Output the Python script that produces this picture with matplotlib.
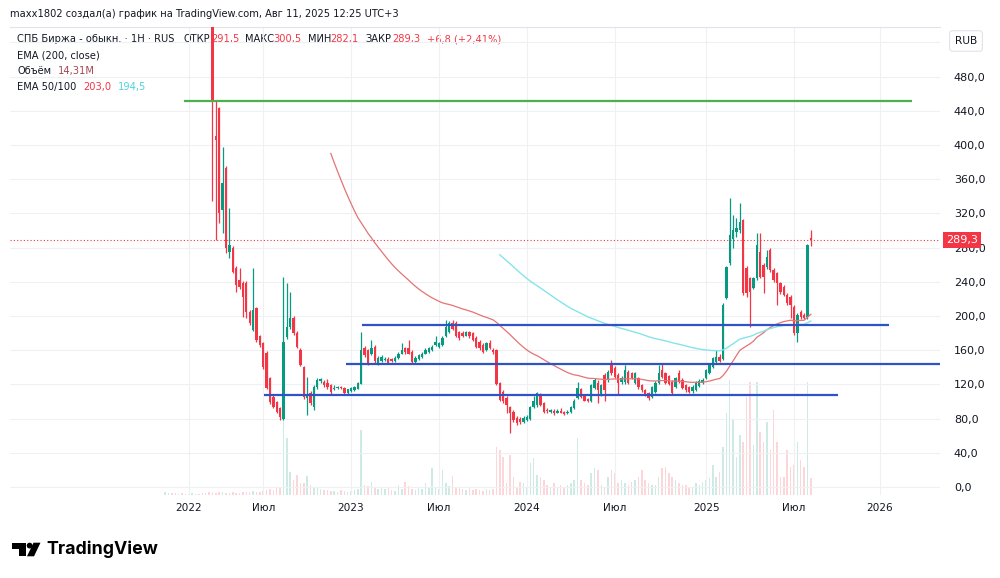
import numpy as np
import pandas as pd
import matplotlib
matplotlib.use('Agg')
import matplotlib.pyplot as plt
from matplotlib.transforms import blended_transform_factory
from matplotlib.patches import Rectangle, Circle, Polygon

# weekly candles (RUB), first bar = week of 2021-11-15, trading halt in March 2022
opens = [800, 880, 1010, 950, 900, 940, 930, 880, 900, 950, 960, 920, 900, 870,
         840, 410, 443, 324, 373, 275, 280, 256, 242, 239, 239, 205, 184, 209, 176, 168,
         157, 127, 105, 99, 92, 80, 175, 187, 198, 180, 160, 140, 104, 110, 94, 117,
         124, 123, 122, 119, 115, 116, 117, 116, 110, 112, 113, 115, 121, 162, 160,
         156, 164, 145, 147, 148, 150, 150, 147, 151, 156, 162, 162, 158, 146, 150,
         152, 156, 158, 160, 166, 164, 166, 176, 181, 192, 192, 181, 180, 177, 181,
         180, 174, 170, 166, 160, 168, 160, 160, 122, 111, 104, 94, 88, 81, 80, 76,
         78, 80, 93, 96, 108, 98, 90, 88, 89, 87, 89, 88, 86, 88, 92, 104, 114, 106,
         103, 100, 116, 122, 108, 131, 125, 145, 139, 131, 123, 123, 135, 133, 122,
         127, 119, 113, 110, 105, 111, 122, 137, 133, 130, 123, 117, 133, 125, 119,
         117, 112, 113, 118, 122, 127, 133, 140, 146, 152, 150, 221, 262, 290, 298,
         301, 312, 256, 244, 233, 244, 275, 260, 257, 277, 254, 250, 238, 234, 225,
         222, 211, 180, 205, 201, 199, 291.5]
highs = [1050, 1060, 1030, 960, 980, 960, 950, 920, 980, 990, 970, 940, 910, 890,
         850, 452, 445, 398, 375, 326, 282, 258, 256, 241, 241, 207, 256, 211, 178, 170,
         159, 129, 107, 101, 94, 246, 238, 228, 200, 182, 162, 142, 129, 112, 119, 127,
         128, 125, 126, 120, 119, 118, 118, 117, 115, 117, 118, 123, 181, 165, 161,
         172, 166, 153, 154, 152, 152, 151, 153, 158, 168, 164, 172, 160, 153, 156,
         158, 162, 164, 166, 176, 170, 176, 195, 194, 195, 194, 183, 182, 183, 182,
         181, 176, 172, 168, 170, 172, 162, 161, 123, 113, 106, 95, 90, 83, 82, 83,
         84, 95, 106, 111, 110, 99, 92, 91, 91, 91, 92, 89, 90, 95, 103, 123, 116, 107,
         104, 120, 127, 125, 121, 133, 137, 148, 141, 133, 130, 143, 137, 135, 135,
         129, 120, 115, 111, 118, 124, 143, 145, 135, 131, 125, 129, 137, 127, 120,
         118, 119, 124, 126, 127, 138, 145, 152, 160, 155, 215, 259, 338, 318, 315,
         332, 314, 258, 246, 246, 297, 297, 262, 277, 279, 256, 252, 240, 236, 227,
         224, 213, 203, 207, 203, 284, 300.5]
lows = [760, 860, 930, 880, 890, 900, 860, 860, 880, 930, 900, 880, 850, 820,
        334, 289, 309, 297, 274, 268, 250, 228, 232, 199, 198, 190, 182, 170, 164, 138,
        114, 97, 92, 86, 78, 78, 173, 185, 178, 162, 141, 103, 84, 96, 90, 115,
        122, 117, 115, 109, 113, 114, 114, 108, 109, 111, 112, 114, 120, 152, 143,
        154, 145, 143, 146, 147, 144, 146, 146, 150, 155, 156, 155, 145, 145, 149,
        151, 155, 157, 159, 165, 162, 165, 175, 180, 184, 175, 172, 175, 176, 174,
        171, 163, 160, 157, 159, 161, 156, 119, 100, 98, 87, 63, 76, 73, 74, 75,
        77, 78, 92, 94, 95, 87, 87, 86, 84, 86, 86, 84, 85, 87, 91, 103, 104, 100,
        99, 99, 115, 98, 106, 100, 123, 131, 127, 108, 121, 121, 120, 126, 120,
        115, 111, 106, 102, 104, 110, 121, 128, 121, 119, 108, 116, 122, 114, 111,
        110, 110, 112, 117, 121, 126, 132, 139, 145, 146, 149, 220, 260, 280, 292,
        297, 225, 222, 187, 231, 242, 244, 227, 255, 252, 240, 213, 226, 223, 213,
        198, 178, 170, 197, 196, 197, 282.1]
closes = [880, 1010, 950, 900, 940, 930, 880, 900, 950, 960, 920, 900, 870, 846,
          451, 406, 320, 356, 280, 283, 252, 236, 234, 222, 205, 192, 207, 172, 166, 140,
          116, 99, 94, 88, 82, 170, 187, 198, 180, 164, 143, 105, 108, 98, 117, 125,
          126, 119, 117, 111, 116, 117, 116, 110, 114, 116, 117, 122, 160, 154, 145,
          162, 147, 151, 152, 150, 145, 147, 151, 156, 160, 158, 156, 146, 151, 154,
          156, 160, 162, 164, 170, 168, 174, 187, 192, 185, 176, 174, 177, 181, 176,
          172, 164, 162, 158, 168, 162, 158, 121, 102, 100, 96, 87, 78, 75, 76, 81,
          82, 94, 100, 110, 96, 88, 89, 90, 87, 89, 87, 85, 88, 94, 101, 116, 105, 101,
          100, 119, 125, 113, 119, 113, 135, 133, 129, 122, 128, 137, 122, 128, 133,
          117, 113, 108, 104, 117, 122, 133, 129, 122, 121, 110, 127, 123, 116, 113,
          111, 117, 122, 124, 125, 137, 143, 151, 152, 147, 213, 257, 295, 300, 303,
          310, 227, 227, 228, 244, 283, 246, 246, 269, 254, 242, 238, 228, 225, 215,
          213, 180, 201, 199, 198, 282.5, 289.3]
# volume, millions of shares
volumes = [2.5, 1.7, 1.7, 1.7, 0.8, 1.7, 0.8, 0.8, 1.7, 0.8, 0.8, 1.7, 1.7, 2.5,
           2.5, 1.7, 2.5, 2.5, 1.7, 1.7, 2.5, 1.7, 1.7, 2.5, 2.5, 2.5, 3.4, 2.5, 2.5,
           3.4, 4.2, 5.0, 4.2, 5.9, 6.7,
           63.0, 47.9, 19.3, 12.6, 16.8, 10.1, 10.1, 16.0, 8.4, 6.7, 6.7, 5.0, 4.2, 4.2,
           3.4, 3.4, 2.5, 4.2, 3.4, 2.5, 3.4, 4.2, 5.0,
           54.6, 8.4, 7.6, 10.9, 6.7, 5.0, 6.7, 5.0, 6.7, 4.2, 3.4, 8.4, 5.0, 10.9, 7.6,
           5.0, 4.2, 5.9, 5.0, 10.1, 6.7, 22.7, 6.7, 5.0, 21.0, 10.1, 7.6, 16.0, 6.7,
           6.7, 5.0, 4.2, 5.9, 4.2, 5.0, 4.2, 3.4, 5.0, 4.2, 5.0,
           40.3, 37.8, 31.9, 10.1, 33.6, 15.1, 6.7, 10.9, 10.1, 5.9,
           26.9, 31.1, 16.8, 15.1, 12.6, 8.4, 6.7, 10.1, 5.9, 8.4,
           6.7, 8.4, 10.1, 12.6, 47.9, 12.6, 10.1, 8.4, 18.5, 22.7,
           21.0, 8.4, 6.7, 15.1, 21.0, 18.5, 10.1, 12.6, 10.1, 8.4,
           10.9, 12.6, 15.1, 21.0, 12.6, 10.1, 8.4, 8.4, 15.1, 22.7,
           23.5, 18.5, 15.1, 12.6, 10.1, 8.4, 8.4, 6.7, 6.7, 10.1,
           8.4, 10.9, 12.6, 14.3, 25.2, 15.1, 19.3,
           40.3, 68.9, 96.6, 63.0, 31.9, 50.4, 44.5, 82.3, 94.9, 42.0, 94.9, 52.9, 44.5,
           61.3, 37.8, 71.4, 44.5, 15.1, 15.1, 37.8, 23.5, 25.2, 44.5, 29.4, 23.5,
           94.9, 14.31]

halt_weeks = ['2022-02-28', '2022-03-07', '2022-03-14', '2022-03-21']
tick_dates = ['2022-01-01', '2022-07-01', '2023-01-01', '2023-07-01', '2024-01-01',
              '2024-07-01', '2025-01-01', '2025-07-01', '2026-01-01']
tick_labels = ['2022', 'Июл', '2023', 'Июл', '2024', 'Июл', '2025', 'Июл', '2026']

# user-drawn horizontal levels: price, from bar, to bar
level_prices = [451.5, 189.5, 144.0, 107.5]
level_from = [5.5, 58.2, 53.5, 29.2]
level_to = [220.9, 214.1, 232.0, 199.0]
level_colors = ['#4caf50', '#2f52c6', '#2f52c6', '#2f52c6']

opens, highs, lows, closes, volumes = map(np.array, (opens, highs, lows, closes, volumes))
dates = pd.date_range('2021-11-15', '2025-08-11', freq='7D').drop(pd.to_datetime(halt_weeks))
n = len(closes)
x = np.arange(n)


def bar_pos(d):
    d = pd.Timestamp(d)
    if d <= dates[-1]:
        return int(np.searchsorted(dates, d))
    return n - 1 + (d - dates[-1]).days / 7


def ema(values, span):
    out = np.full(len(values), np.nan)
    alpha = 2 / (span + 1)
    out[span - 1] = values[:span].mean()
    for i in range(span, len(values)):
        out[i] = alpha * values[i] + (1 - alpha) * out[i - 1]
    return out


GREEN = '#089981'
RED = '#f23645'
TXT = '#131722'
W, H = 1000, 578

fig = plt.figure(figsize=(10, 5.78), dpi=100)


def px_rect(x0, y0, x1, y1):
    return [x0 / W, 1 - y1 / H, (x1 - x0) / W, (y1 - y0) / H]


overlay = fig.add_axes([0, 0, 1, 1], zorder=0)
overlay.set_xlim(0, W)
overlay.set_ylim(H, 0)
overlay.axis('off')

vax = fig.add_axes(px_rect(10, 27, 940, 495), zorder=1)
ax = fig.add_axes(px_rect(10, 27, 940, 495), zorder=2, sharex=vax)
for a in (vax, ax):
    a.patch.set_alpha(0)
    for s in a.spines.values():
        s.set_visible(False)

up = closes >= opens
colors = np.where(up, GREEN, RED)

# volume
vax.bar(x, volumes, width=0.45, color=colors, alpha=0.2, linewidth=0)
vax.set_ylim(0, 394)
vax.set_yticks([])
vax.tick_params(axis='x', length=0, labelbottom=False)

# candles
ax.vlines(x, lows, highs, colors=colors, lw=0.9, zorder=3)
ax.bar(x, np.maximum(np.abs(closes - opens), 0.9), bottom=np.minimum(opens, closes),
       width=0.7, color=colors, linewidth=0, zorder=3)

ax.plot(x, ema(closes, 50), color='#e57373', lw=0.9, zorder=4)
ax.plot(x, ema(closes, 100), color='#84e4ec', lw=1.0, zorder=4)

ax.hlines(level_prices, level_from, level_to, colors=level_colors, lw=1.6, zorder=4)

last = closes[-1]
ax.axhline(last, color=RED, lw=0.8, ls=(0, (1, 2)), zorder=2)
tr = blended_transform_factory(ax.transAxes, ax.transData)
ax.text(1.0062, last, f'{last:.1f}'.replace('.', ','), transform=tr, ha='left', va='center',
        color='white', fontsize=8, clip_on=False, zorder=6,
        bbox=dict(boxstyle='square,pad=0.28', fc=RED, ec='none'))

ax.set_xlim(-45.9, 229.2)
ax.set_ylim(-9.4, 538)

yt = np.arange(0, 521, 40)
ax.set_yticks(yt)
ax.set_yticklabels([f'{v:.1f}'.replace('.', ',') if v <= 480 else '' for v in yt])
ax.yaxis.tick_right()
ax.tick_params(axis='y', length=0, pad=10, labelsize=8, labelcolor=TXT)

ax.set_xticks([bar_pos(d) for d in tick_dates])
ax.set_xticklabels(tick_labels)
ax.tick_params(axis='x', length=0, pad=6, labelsize=7.6, labelcolor=TXT)
ax.grid(color='#eef0f4', lw=0.8, zorder=0)
ax.set_axisbelow(True)
ax.spines['top'].set_visible(True)
ax.spines['top'].set_color('#e0e3eb')
ax.spines['top'].set_linewidth(0.8)

# header and legend
fs = 7.1
overlay.text(10, 14, 'maxx1802 создал(а) график на TradingView.com, Авг 11, 2025 12:25 UTC+3',
             fontsize=fs, color=TXT, va='center')
legend1 = [('СПБ Биржа - обыкн. · 1Н · RUS', 17, TXT), ('ОТКР', 183, TXT), ('291,5', 211, RED),
           ('МАКС', 245, TXT), ('300,5', 273, RED), ('МИН', 308, TXT), ('282,1', 330, RED),
           ('ЗАКР', 365, TXT), ('289,3', 392, RED), ('+6,8 (+2,41%)', 427, RED)]
for s, xp, c in legend1:
    overlay.text(xp, 39, s, fontsize=fs, color=c, va='center')
overlay.text(17, 55, 'EMA (200, close)', fontsize=fs, color=TXT, va='center')
overlay.text(17, 71, 'Объём', fontsize=fs, color=TXT, va='center')
overlay.text(58, 71, '14,31M', fontsize=fs, color='#a3474e', va='center')
overlay.text(17, 87, 'EMA 50/100', fontsize=fs, color=TXT, va='center')
overlay.text(83, 87, '203,0', fontsize=fs, color=RED, va='center')
overlay.text(118, 87, '194,5', fontsize=fs, color='#4fd4e0', va='center')

overlay.text(966, 41, 'RUB', fontsize=7.6, color=TXT, ha='center', va='center',
             bbox=dict(boxstyle='round,pad=0.5,rounding_size=0.3', fc='white', ec='#e0e3eb', lw=0.8))

# TradingView logo
overlay.add_patch(Rectangle((11.5, 542.7), 14, 5.8, color='black', lw=0))
overlay.add_patch(Rectangle((18.5, 542.7), 7, 13.6, color='black', lw=0))
overlay.add_patch(Circle((29.6, 545.6), 2.9, color='black', lw=0))
overlay.add_patch(Polygon([(33.5, 542.7), (40.5, 542.7), (34.0, 556.3), (27.0, 556.3)],
                          closed=True, color='black', lw=0))
overlay.text(46, 549.5, 'TradingView', fontsize=12.8, fontweight='bold', family='Inter',
             color='black', va='center')

fig.savefig('out.png', dpi=100, facecolor='white')
